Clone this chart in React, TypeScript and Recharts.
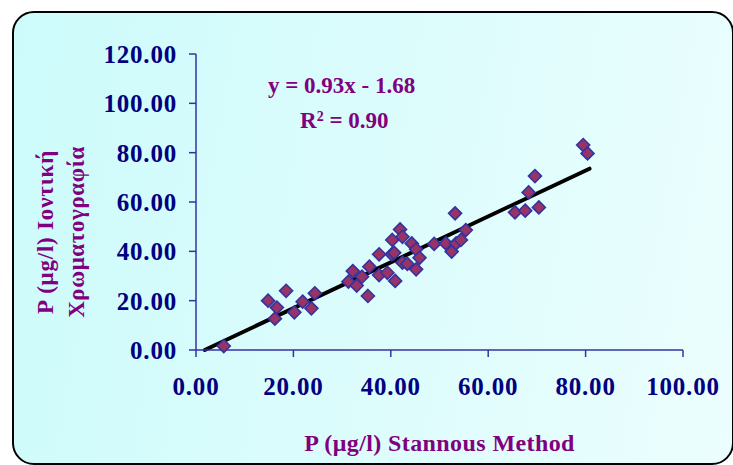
import React from 'react';
import { ScatterChart, Scatter, XAxis, YAxis, ReferenceLine } from 'recharts';

// Stannous method (x) vs ion chromatography (y), µg/l
const stannous = [
  5.7, 14.8, 16.6, 16.2, 18.5, 20.2, 21.9, 23.7, 24.4, 31.3, 32.2, 33.0, 34.1, 35.3, 35.6,
  37.6, 37.6, 39.3, 40.2, 40.7, 40.3, 40.9, 41.9, 42.4, 42.4, 43.4, 44.3, 45.2, 45.2, 45.9,
  48.9, 51.3, 52.5, 53.2, 53.4, 54.4, 55.4, 65.5, 67.6, 68.3, 69.6, 70.4, 79.5, 80.4,
];
const ionChrom = [
  1.6, 20.0, 17.2, 12.7, 24.0, 15.3, 19.6, 16.9, 23.0, 27.7, 32.0, 26.1, 29.7, 21.9, 33.8,
  38.8, 30.4, 31.3, 38.8, 39.4, 44.6, 28.0, 48.9, 45.9, 35.4, 34.9, 43.2, 40.8, 32.7, 37.4,
  43.0, 43.2, 39.9, 55.4, 43.2, 44.6, 48.6, 55.8, 56.5, 63.9, 70.5, 57.8, 83.1, 79.7,
];
const xTicks = [0, 20, 40, 60, 80, 100];
const yTicks = [0, 20, 40, 60, 80, 100, 120];
// trend line ends (y = 0.93x - 1.68)
const trendStart = { x: 1.8, y: 0 };
const trendEnd = { x: 80.8, y: 73.5 };

const points = stannous.map((x, i) => ({ x, y: ionChrom[i] }));

const SERIF = '"Liberation Serif", "Times New Roman", serif';
const NAVY = '#000080';
const PURPLE = '#800080';
const AXIS = '#3333a0';

const Diamond = (props: any) => {
  const { cx, cy } = props;
  const r = 6.5;
  return (
    <polygon
      points={`${cx},${cy - r} ${cx + r},${cy} ${cx},${cy + r} ${cx - r},${cy}`}
      fill="#993366"
      stroke="#3333a0"
      strokeWidth={1.6}
    />
  );
};

const YTitle = (props: any) => {
  const vb = props.viewBox || { y: 54, height: 296 };
  const cy = vb.y + vb.height / 2 + 30;
  const style = { fontFamily: SERIF, fontWeight: 700, fontSize: 23, fill: PURPLE };
  return (
    <g>
      <text x={45} y={cy} transform={`rotate(-90 45 ${cy})`} textAnchor="middle" dominantBaseline="central" style={{ ...style, letterSpacing: 0.8 }}>
        P (μg/l)  Ιοντική
      </text>
      <text x={76} y={cy} transform={`rotate(-90 76 ${cy})`} textAnchor="middle" dominantBaseline="central" style={{ ...style, letterSpacing: 0.6 }}>
        Χρωματογραφία
      </text>
    </g>
  );
};

export default function App() {
  const tickStyle = { fontFamily: SERIF, fontWeight: 700, fontSize: 25, fill: NAVY, letterSpacing: 0.8 };
  return (
    <div style={{ position: 'fixed', top: 0, left: 0, width: 733, height: 465, background: '#fff', overflow: 'hidden' }}>
      <div
        style={{
          position: 'absolute',
          left: 12,
          top: 11,
          width: 718,
          height: 450,
          border: '2px solid #000',
          borderRadius: 22,
          background: 'linear-gradient(100deg, #cdfbfb 0%, #dcfcfc 50%, #ecfefe 100%)',
        }}
      />
      <div style={{ position: 'absolute', left: 0, top: 0 }}>
        <ScatterChart width={733} height={465} margin={{ top: 54, right: 50, bottom: 0, left: 0 }}>
          <XAxis
            type="number"
            dataKey="x"
            domain={[0, 100]}
            ticks={xTicks}
            interval={0}
            tickFormatter={(v: number) => v.toFixed(2)}
            tick={tickStyle}
            stroke={AXIS}
            strokeWidth={1.5}
            tickSize={7}
            tickMargin={20}
            height={115}
            label={{
              value: 'P (μg/l)  Stannous Method',
              position: 'insideBottom',
              offset: 14,
              style: { fontFamily: SERIF, fontWeight: 700, fontSize: 24, fill: PURPLE, letterSpacing: 0.4 },
            }}
          />
          <YAxis
            type="number"
            dataKey="y"
            domain={[0, 120]}
            ticks={yTicks}
            interval={0}
            tickFormatter={(v: number) => v.toFixed(2)}
            tick={tickStyle}
            stroke={AXIS}
            strokeWidth={1.5}
            tickSize={7}
            tickMargin={12}
            width={196}
            label={<YTitle />}
          />
          <Scatter data={points} shape={<Diamond />} isAnimationActive={false} />
          <ReferenceLine
            segment={[trendStart, trendEnd]}
            stroke="#000"
            strokeWidth={4}
            strokeLinecap="round"
            ifOverflow="visible"
          />
        </ScatterChart>
      </div>
      <div
        style={{
          position: 'absolute',
          left: 0,
          top: 72,
          fontFamily: SERIF,
          fontWeight: 700,
          fontSize: 23,
          color: PURPLE,
          lineHeight: '28px',
          whiteSpace: 'nowrap',
        }}
      >
        <div style={{ position: 'absolute', left: 268, top: 0 }}>y = 0.93x - 1.68</div>
        <div style={{ position: 'absolute', left: 300, top: 35 }}>
          R<sup style={{ fontSize: 14, verticalAlign: 'top', position: 'relative', top: -4 }}>2</sup> = 0.90
        </div>
      </div>
    </div>
  );
}
